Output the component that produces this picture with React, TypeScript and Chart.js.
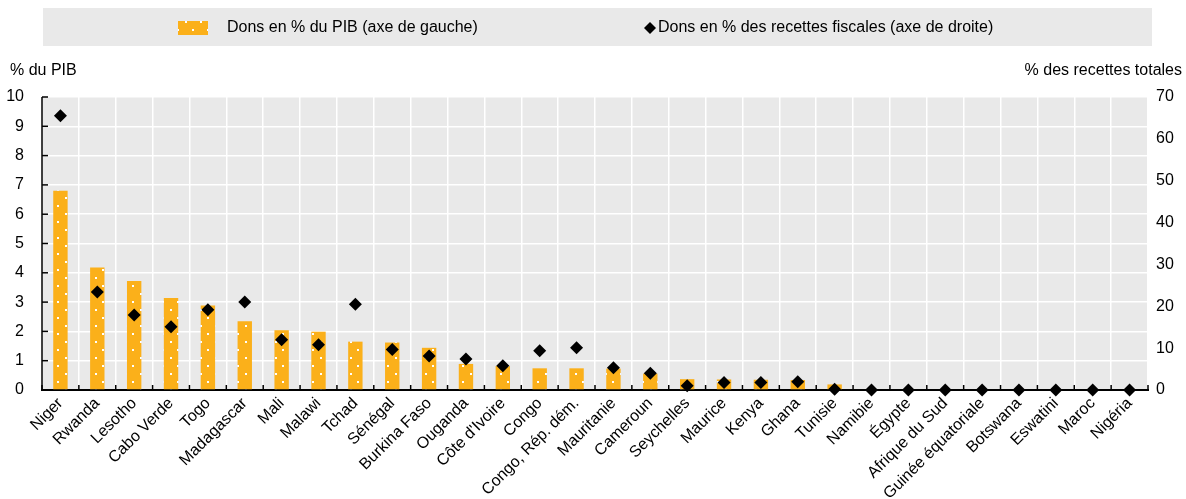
import React, { useEffect, useRef } from "react";
import { Chart, registerables } from "chart.js";

Chart.register(...registerables);

const categories = [
  "Niger", "Rwanda", "Lesotho", "Cabo Verde", "Togo", "Madagascar", "Mali", "Malawi",
  "Tchad", "Sénégal", "Burkina Faso", "Ouganda", "Côte d'Ivoire", "Congo",
  "Congo, Rép. dém.", "Mauritanie", "Cameroun", "Seychelles", "Maurice", "Kenya",
  "Ghana", "Tunisie", "Namibie", "Égypte", "Afrique du Sud", "Guinée équatoriale",
  "Botswana", "Eswatini", "Maroc", "Nigéria",
];

const grantsGdp = [
  6.8, 4.18, 3.72, 3.14, 2.88, 2.35, 2.04, 1.99, 1.65, 1.62, 1.44, 0.89, 0.82, 0.74,
  0.74, 0.73, 0.56, 0.37, 0.36, 0.35, 0.34, 0.19, 0, 0, 0, 0, 0, 0, 0, 0,
];

const grantsRevenue = [
  65.5, 23.4, 17.9, 15.1, 19.2, 21.0, 12.0, 10.8, 20.5, 9.7, 8.1, 7.4, 5.8, 9.4,
  10.1, 5.3, 4.0, 1.0, 1.8, 1.8, 2.0, 0.2, 0, 0, 0, 0, 0, 0, 0, 0,
];

const leftAxis = { min: 0, max: 10, step: 1 };
const rightAxis = { min: 0, max: 70, step: 10 };

const legendGdp = "Dons en % du PIB (axe de gauche)";
const legendRevenue = "Dons en % des recettes fiscales (axe de droite)";
const leftTitle = "% du PIB";
const rightTitle = "% des recettes totales";

const FONT = "'Liberation Sans', Arial, Helvetica, sans-serif";
const FS = 16;
const ORANGE = "#FBB01A";
const GRAY = "#E9E9E9";

function makePattern(ctx: CanvasRenderingContext2D) {
  const c = document.createElement("canvas");
  c.width = 15;
  c.height = 16;
  const g = c.getContext("2d")!;
  g.fillStyle = ORANGE;
  g.fillRect(0, 0, 15, 16);
  g.fillStyle = "#ffffff";
  g.fillRect(5, 5, 2, 2);
  g.fillRect(12, 13, 2, 2);
  return ctx.createPattern(c, "repeat")!;
}

function diamond(ctx: CanvasRenderingContext2D, x: number, y: number, r: number) {
  ctx.beginPath();
  ctx.moveTo(x, y - r);
  ctx.lineTo(x + r, y);
  ctx.lineTo(x, y + r);
  ctx.lineTo(x - r, y);
  ctx.closePath();
  ctx.fill();
}

export default function App() {
  const ref = useRef<HTMLCanvasElement | null>(null);

  useEffect(() => {
    document.body.style.margin = "0";
    const canvas = ref.current!;
    const ctx = canvas.getContext("2d")!;
    const pattern = makePattern(ctx);

    const decor = {
      id: "decor",
      beforeDraw(chart: any) {
        const { ctx: c, chartArea: a } = chart;
        c.save();
        c.fillStyle = GRAY;
        c.fillRect(a.left, a.top, a.right - a.left, a.bottom - a.top);
        // legend box
        c.fillRect(43, 8, 1109, 38);
        c.fillStyle = pattern;
        c.fillRect(178, 21, 30, 14);
        c.fillStyle = "#000";
        c.font = `${FS}px ${FONT}`;
        c.textBaseline = "middle";
        c.textAlign = "left";
        c.fillText(legendGdp, 227, 28);
        diamond(c, 650, 28, 6);
        c.fillText(legendRevenue, 658, 28);
        // axis titles
        c.fillText(leftTitle, 10, 71);
        c.textAlign = "right";
        c.fillText(rightTitle, 1182, 71);
        c.restore();
      },
      beforeDatasetsDraw(chart: any) {
        const { ctx: c, chartArea: a, scales } = chart;
        c.save();
        c.strokeStyle = "#000";
        c.lineWidth = 1.5;
        c.beginPath();
        c.moveTo(a.left, a.top);
        c.lineTo(a.left, a.bottom);
        c.stroke();
        for (let v = leftAxis.min; v <= leftAxis.max; v += leftAxis.step) {
          const y = scales.y.getPixelForValue(v);
          c.beginPath();
          c.moveTo(a.left, y);
          c.lineTo(a.left + 6, y);
          c.stroke();
        }
        const n = categories.length;
        const w = (a.right - a.left) / n;
        for (let i = 0; i <= n; i++) {
          const x = a.left + i * w;
          c.beginPath();
          c.moveTo(x, a.bottom);
          c.lineTo(x, a.bottom - 5);
          c.stroke();
        }
        c.lineWidth = 2;
        c.beginPath();
        c.moveTo(a.left - 1, a.bottom);
        c.lineTo(a.right + 1, a.bottom);
        c.stroke();
        c.restore();
      },
    };

    const chart = new Chart(ctx, {
      type: "bar",
      data: {
        labels: categories,
        datasets: [
          {
            type: "line",
            label: legendRevenue,
            data: grantsRevenue,
            yAxisID: "y1",
            showLine: false,
            pointStyle: "rectRot",
            pointRadius: 6.5,
            pointBackgroundColor: "#000",
            pointBorderColor: "#000",
            pointBorderWidth: 0,
            order: 1,
            clip: false,
          } as any,
          {
            type: "bar",
            label: legendGdp,
            data: grantsGdp,
            yAxisID: "y",
            backgroundColor: pattern,
            borderWidth: 0,
            barPercentage: 0.39,
            categoryPercentage: 1,
            order: 2,
          },
        ],
      },
      options: {
        responsive: false,
        animation: false,
        events: [],
        layout: { padding: { top: 97, left: 0, right: 0, bottom: 0 } },
        plugins: { legend: { display: false }, tooltip: { enabled: false } },
        scales: {
          x: {
            offset: true,
            grid: { color: "#ffffff", lineWidth: 1.5, offset: true, drawTicks: false },
            border: { display: false },
            ticks: {
              font: { family: FONT, size: FS },
              color: "#000",
              minRotation: 45,
              maxRotation: 45,
              autoSkip: false,
              padding: 4,
            },
            afterFit(s: any) {
              s.height = 109;
            },
          },
          y: {
            position: "left",
            min: leftAxis.min,
            max: leftAxis.max,
            grid: { color: "#ffffff", lineWidth: 1.5, drawTicks: false },
            border: { display: false },
            ticks: {
              stepSize: leftAxis.step,
              padding: 18,
              font: { family: FONT, size: FS },
              color: "#000",
            },
            afterFit(s: any) {
              s.width = 42;
            },
          },
          y1: {
            position: "right",
            min: rightAxis.min,
            max: rightAxis.max,
            grid: { display: false, drawTicks: false },
            border: { display: false },
            ticks: {
              stepSize: rightAxis.step,
              padding: 8,
              font: { family: FONT, size: FS },
              color: "#000",
            },
            afterFit(s: any) {
              s.width = 38;
            },
          },
        },
      },
      plugins: [decor],
    });

    return () => chart.destroy();
  }, []);

  return (
    <div style={{ width: 1186, height: 499, overflow: "hidden", background: "#fff" }}>
      <canvas ref={ref} width={1186} height={499} style={{ display: "block" }} />
    </div>
  );
}
